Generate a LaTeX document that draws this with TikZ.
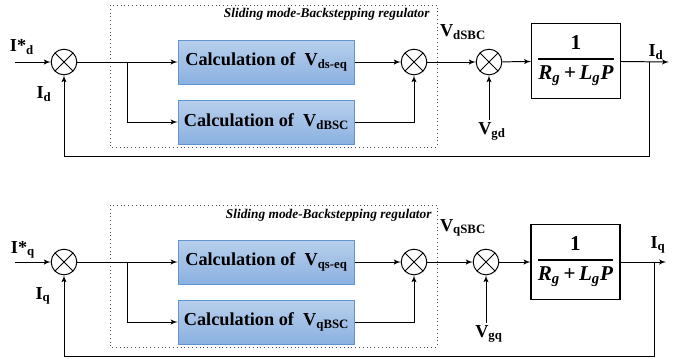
\documentclass[tikz,border=0pt]{standalone}
\usepackage{fontspec}
\setmainfont{Liberation Serif}
\newfontfamily\blockfont{Liberation Serif}
\usetikzlibrary{arrows}
\definecolor{calctop}{RGB}{184,207,236}
\definecolor{calcbot}{RGB}{138,177,224}
\definecolor{calcedge}{RGB}{98,148,210}
\newcommand{\plantfrac}{\blockfont\fontsize{15}{17}\selectfont
  $\displaystyle{\textbf{1}\above1.5pt\textbf{\textit{R\textsubscript{g}}\,+\,\textit{L\textsubscript{g}P}}}$}

\begin{document}
\begin{tikzpicture}[x=0.025cm,y=-0.025cm,>=latex',line width=0.7pt,
  calcbox/.style={draw=calcedge,top color=calctop,bottom color=calcbot,
    minimum width=4.42cm,minimum height=1.1cm,font=\blockfont\bfseries\fontsize{13}{15}\selectfont},
  tfbox/.style={draw,minimum width=2.22cm,minimum height=1.87cm,line width=0.9pt},
  sumnode/.style={circle,draw,minimum size=0.64cm,inner sep=0pt,
    path picture={\draw (path picture bounding box.north west) -- (path picture bounding box.south east)
      (path picture bounding box.north east) -- (path picture bounding box.south west);}},
  lbl/.style={font=\blockfont\bfseries\fontsize{13}{15}\selectfont,inner sep=1pt},
  regtitle/.style={font=\blockfont\bfseries\itshape\fontsize{9.5}{11}\selectfont,anchor=east,inner sep=0pt}]
\useasboundingbox (0,0) rectangle (679,358);

% d axis
\draw[dotted,gray!60!black] (110,5) rectangle (437,147);
\node[regtitle] (t1) at (430,14) {Sliding mode-Backstepping regulator};
\coordinate (in1) at (15,62);
\node[sumnode] (s1) at (64,62) {};
\node[calcbox] (c1) at (266.5,62) {Calculation of~~V\textsubscript{ds-eq}};
\node[calcbox] (c2) at (266.5,122) {Calculation of~~V\textsubscript{dBSC}};
\node[sumnode] (s2) at (414,62) {};
\node[sumnode] (s3) at (489,62) {};
\node[tfbox] (g1) at (576,61) {\plantfrac};
\coordinate (br1) at (127,62);
\coordinate (b1) at (649,62);
\coordinate (out1) at (669,62);
\coordinate (fb1) at (649,156);
\node[lbl] (id1) at (22,47) {I*\textsubscript{d}};
\node[lbl] (id2) at (44,94) {I\textsubscript{d}};
\node[lbl] (vs1) at (463,32) {V\textsubscript{dSBC}};
\node[lbl] (vg1) at (492,131) {V\textsubscript{gd}};
\node[lbl] (io1) at (656,52) {I\textsubscript{d}};

\draw [->] (in1) -- (s1);
\draw [->] (s1) -- (c1);
\draw [->] (br1) |- (c2);
\draw [->] (c1) -- (s2);
\draw [->] (c2) -| (s2);
\draw [->] (s2) -- (s3);
\draw [->] (vg1.north -| s3) -- (s3);
\draw [->] (s3) -- (g1);
\draw [->] (g1) -- (out1);
\draw [->] (b1) -- (fb1) -| (s1);

% q axis
\draw[dotted,gray!60!black] (110,205) rectangle (437,347);
\node[regtitle] (t2) at (432,215) {Sliding mode-Backstepping regulator};
\coordinate (in2) at (15,262);
\node[sumnode] (s4) at (64,262) {};
\node[calcbox] (c3) at (266.5,262) {Calculation of~~V\textsubscript{qs-eq}};
\node[calcbox] (c4) at (266.5,322) {Calculation of~~V\textsubscript{qBSC}};
\node[sumnode] (s5) at (414,262) {};
\node[sumnode] (s6) at (486,262) {};
\node[tfbox] (g2) at (575.5,262) {\plantfrac};
\coordinate (br2) at (127,262);
\coordinate (b2) at (654,262);
\coordinate (out2) at (666,262);
\coordinate (fb2) at (654,356);
\node[lbl] (iq1) at (23,250) {I*\textsubscript{q}};
\node[lbl] (iq2) at (43,296) {I\textsubscript{q}};
\node[lbl] (vs2) at (463,228) {V\textsubscript{qSBC}};
\node[lbl] (vg2) at (489,334) {V\textsubscript{gq}};
\node[lbl] (io2) at (658,245) {I\textsubscript{q}};

\draw [->] (in2) -- (s4);
\draw [->] (s4) -- (c3);
\draw [->] (br2) |- (c4);
\draw [->] (c3) -- (s5);
\draw [->] (c4) -| (s5);
\draw [->] (s5) -- (s6);
\draw [->] (vg2.north -| s6) -- (s6);
\draw [->] (s6) -- (g2);
\draw [->] (g2) -- (out2);
\draw [->] (b2) -- (fb2) -| (s4);
\end{tikzpicture}
\end{document}
